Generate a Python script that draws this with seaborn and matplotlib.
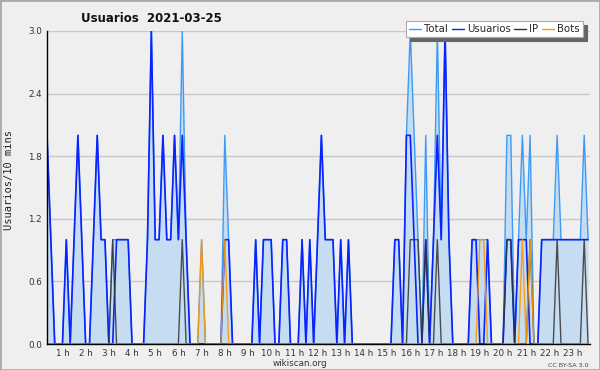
import matplotlib
matplotlib.use("Agg")
import matplotlib.pyplot as plt
import seaborn as sns
import pandas as pd
from matplotlib.lines import Line2D
from matplotlib.patches import Rectangle
from matplotlib.ticker import MultipleLocator, FixedLocator

# ---- data (10-minute slots, first slot at 00:20) ----
minutos = list(range(20, 1430, 10))

usuarios = [2,1,0,0,0,1,0,1,2,1,
            0,0,1,2,1,1,0,0,1,1,
            1,1,0,0,0,0,1,3,1,1,
            2,1,1,2,1,2,1,0,0,0,
            0,0,0,0,0,0,1,1,0,0,
            0,0,0,0,1,0,1,1,1,0,
            0,1,1,0,0,0,1,0,1,0,
            1,2,1,1,1,0,1,0,1,0,
            0,0,0,0,0,0,0,0,0,0,
            1,1,0,2,2,1,0,0,1,0,
            1,2,1,3,1,0,0,0,0,0,
            1,1,0,0,1,0,0,0,0,1,
            1,0,1,1,1,0,0,0,1,1,
            1,1,1,1,1,1,1,1,1,1,
            1]

ip = [0,0,0,0,0,0,0,0,0,0,
      0,0,0,0,0,0,0,1,0,0,
      0,0,0,0,0,0,0,0,0,0,
      0,0,0,0,0,1,0,0,0,0,
      0,0,0,0,0,0,0,0,0,0,
      0,0,0,0,0,0,0,0,0,0,
      0,0,0,0,0,0,0,0,0,0,
      0,0,0,0,0,0,0,0,0,0,
      0,0,0,0,0,0,0,0,0,0,
      0,0,0,0,1,1,1,0,1,0,
      0,1,0,0,0,0,0,0,0,0,
      0,0,0,0,0,0,0,0,0,1,
      1,0,0,0,0,1,0,0,0,0,
      0,0,1,0,0,0,0,0,0,1,
      0]

bots = [0,0,0,0,0,0,0,0,0,0,
        0,0,0,0,0,0,0,0,0,0,
        0,0,0,0,0,0,0,0,0,0,
        0,0,0,0,0,0,0,0,0,0,
        1,0,0,0,0,0,1,0,0,0,
        0,0,0,0,0,0,0,0,0,0,
        0,0,0,0,0,0,0,0,0,0,
        0,0,0,0,0,0,0,0,0,0,
        0,0,0,0,0,0,0,0,0,0,
        0,0,0,0,0,0,0,0,0,0,
        0,0,0,0,0,0,0,0,0,0,
        0,0,1,1,0,0,0,0,0,0,
        0,0,0,1,0,1,0,0,0,0,
        0,0,0,0,0,0,0,0,0,0,
        0]

total = [2,1,0,0,0,1,0,1,2,1,
         0,0,1,2,1,1,0,1,1,1,
         1,1,0,0,0,0,1,3,1,1,
         2,1,1,2,1,3,1,0,0,0,
         1,0,0,0,0,0,2,1,0,0,
         0,0,0,0,1,0,1,1,1,0,
         0,1,1,0,0,0,1,0,1,0,
         1,2,1,1,1,0,1,0,1,0,
         0,0,0,0,0,0,0,0,0,0,
         1,1,0,2,3,2,1,0,2,0,
         1,3,1,3,1,0,0,0,0,0,
         1,1,1,1,1,0,0,0,0,2,
         2,0,1,2,1,2,0,0,1,1,
         1,1,2,1,1,1,1,1,1,2,
         1]

horas = list(range(1, 24))
hora_labels = [f"{h} h" for h in horas]
y_ticks = [0.0, 0.6, 1.2, 1.8, 2.4, 3.0]

series_names = ["Total", "Usuarios", "IP", "Bots"]
colors = {"Total": "#3d9bf5", "Usuarios": "#0a22ff", "IP": "#333333", "Bots": "#ff9900"}

df = pd.DataFrame({
    "min": minutos * 4,
    "val": total + usuarios + ip + bots,
    "serie": ["Total"] * len(minutos) + ["Usuarios"] * len(minutos)
             + ["IP"] * len(minutos) + ["Bots"] * len(minutos),
})

# ---- figure ----
sns.set_theme(style="white")
plt.rcParams['font.family'] = ['DejaVu Sans']
BG = "#efefef"
fig = plt.figure(figsize=(6, 3.7), dpi=100, facecolor=BG)
ax = fig.add_axes([47/600, 1 - 344/370, 543/600, 313/370])
ax.set_facecolor(BG)

ax.fill_between(minutos, total, 0, color="#c6ddf1", lw=0, zorder=1)
styles = {"Total": (1.0, 1.0), "Usuarios": (1.2, 1.0), "IP": (1.0, 0.85), "Bots": (1.0, 0.9)}
for i, name in enumerate(series_names):
    lw, al = styles[name]
    sns.lineplot(data=df[df.serie == name], x="min", y="val", color=colors[name],
                 lw=lw, alpha=al, ax=ax, legend=False, zorder=2 + i)

ax.set_xlim(20, 1425)
ax.set_ylim(0, 3.0)
ax.set_xlabel("")
ax.set_ylabel("")

ax.yaxis.set_major_locator(FixedLocator(y_ticks))
ax.set_yticklabels([f"{v:.1f}" for v in y_ticks])
ax.yaxis.set_minor_locator(MultipleLocator(0.15))
ax.xaxis.set_major_locator(FixedLocator([60 * h for h in horas]))
ax.set_xticklabels(hora_labels)
ax.xaxis.set_minor_locator(FixedLocator(minutos))

ax.tick_params(axis="both", which="both", direction="out", color="black", width=0.8)
ax.tick_params(axis="both", which="major", length=3, labelsize=6.3, labelcolor="#333333", pad=0.5)
ax.tick_params(axis="both", which="minor", length=2.5)
ax.yaxis.grid(True, color="#c8c8c8", lw=1)
ax.set_axisbelow(True)
for s in ["top", "right"]:
    ax.spines[s].set_visible(False)
for s in ["left", "bottom"]:
    ax.spines[s].set_color("black")
    ax.spines[s].set_linewidth(1)
    ax.spines[s].set_zorder(10)

# texts
fig.text(151/600, 1 - 18.5/370, "Usuarios  2021-03-25", ha="center", va="center",
         fontsize=8.5, fontweight="bold", color="#111111")
fig.text(9/600, 1 - 180/370, "Usuarios/10 mins", rotation=90, ha="center", va="center",
         fontsize=7.5, family="DejaVu Sans Mono", color="#222222")
fig.text(300/600, 1 - 363.5/370, "wikiscan.org", ha="center", va="center", fontsize=6.3, color="#333333")
fig.text(589/600, 1 - 365.5/370, "CC BY-SA 3.0", ha="right", va="center", fontsize=4.6, color="#444444")

handles = [Line2D([], [], color=colors[n], lw=1) for n in series_names]
leg = ax.legend(handles, series_names, ncol=4, loc="upper right",
                bbox_to_anchor=(588/600, 1 - 16/370), bbox_transform=fig.transFigure,
                fontsize=7.3, handlelength=1.2, handletextpad=0.3, columnspacing=0.35,
                borderpad=0.3, frameon=True, fancybox=False, framealpha=1,
                shadow={"color": "#666666", "alpha": 1, "ox": 3, "oy": -3})
leg.get_frame().set_facecolor("white")
leg.get_frame().set_edgecolor("#aaaaaa")
leg.get_frame().set_linewidth(0.8)
leg.set_zorder(20)

fig.add_artist(Rectangle((0, 0), 1, 1, transform=fig.transFigure, fill=False,
                         edgecolor="#aaaaaa", lw=2))

fig.savefig("out.png", dpi=100, facecolor=BG)
